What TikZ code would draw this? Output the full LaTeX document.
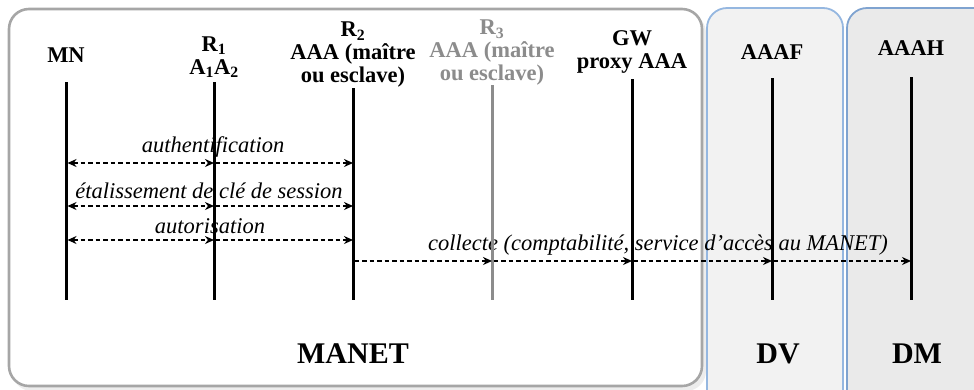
\documentclass[tikz,border=0pt]{standalone}
\usepackage{fontspec}
\setmainfont{Liberation Serif}
\usetikzlibrary{arrows.meta}
\definecolor{manetgray}{HTML}{A6A6A6}
\definecolor{dvblue}{HTML}{95B7E0}
\definecolor{dmblue}{HTML}{7FA3D0}
\definecolor{dvfill}{HTML}{F2F2F2}
\definecolor{dmfill}{HTML}{EAEAEA}
\definecolor{rthree}{HTML}{8C8C8C}
\tikzset{
  zonebox/.style={rounded corners=20pt, line width=2.6pt},
  head/.style={align=center, font=\fontsize{22.5}{23}\selectfont\bfseries, inner sep=0pt},
  msg/.style={font=\fontsize{22.5}{23}\selectfont\itshape, inner sep=0pt},
  big/.style={font=\fontsize{30}{32}\selectfont\bfseries, inner sep=0pt},
  life/.style={line width=3pt},
  flow/.style={line width=1.5pt, dash pattern=on 4.5pt off 3pt},
  tip/.style={-{Stealth[length=9pt,width=8pt]}},
  bitip/.style={{Stealth[length=9pt,width=8pt]}-{Stealth[length=9pt,width=8pt]}}
}
\begin{document}
\begin{tikzpicture}[x=1pt,y=-1pt]
\useasboundingbox (0,0) rectangle (974,389);
\begin{scope}
\clip (0,0) rectangle (974,389);
% shadow
\fill[black, opacity=0.07, rounded corners=20pt] (12,13) rectangle (706,391);
\draw[zonebox, draw=manetgray, fill=white] (9,9) rectangle (702,386);
\draw[zonebox, draw=dvblue, fill=dvfill, line width=1.8pt] (707,8) rectangle (843,410);
\draw[zonebox, draw=dmblue, fill=dmfill, line width=1.8pt] (847,8) rectangle (1000,410);
\end{scope}

% headers
\node[head] (hMN) at (66,55) {MN};
\node[head] (hR1) at (214,57) {R\textsubscript{1}\\A\textsubscript{1}A\textsubscript{2}};
\node[head] (hR2) at (353,55) {R\textsubscript{2}\\AAA (maître\\ou esclave)};
\node[head, text=rthree] (hR3) at (492,53) {R\textsubscript{3}\\AAA (maître\\ou esclave)};
\node[head] (hGW) at (632,52) {GW\\proxy AAA};
\node[head] (hF) at (772,52) {AAAF};
\node[head] (hH) at (911,48) {AAAH};

% message labels
\node[msg] (l1) at (213,147) {authentification};
\node[msg] (l2) at (209,191) {étalissement de clé de session};
\node[msg] (l3) at (210,226) {autorisation};
\node[msg] (l4) at (658,245) {collecte (comptabilité, service d’accès au MANET)};

% big labels
\node[big] (bM) at (353,354) {MANET};
\node[big] (bD) at (778,354) {DV};
\node[big] (bH) at (917,354) {DM};

% lifelines
\coordinate (mnT) at (66,82);   \coordinate (mnB) at (66,300);
\coordinate (r1T) at (214,82);  \coordinate (r1B) at (214,300);
\coordinate (r2T) at (353,88);  \coordinate (r2B) at (353,300);
\coordinate (r3T) at (492,85);  \coordinate (r3B) at (492,300);
\coordinate (gwT) at (632,79);  \coordinate (gwB) at (632,300);
\coordinate (fT) at (772,78);   \coordinate (fB) at (772,300);
\coordinate (hT) at (911,77);   \coordinate (hB) at (911,300);
\draw[life] (mnT) -- (mnB);
\draw[life] (r1T) -- (r1B);
\draw[life] (r2T) -- (r2B);
\draw[life, draw=rthree] (r3T) -- (r3B);
\draw[life] (gwT) -- (gwB);
\draw[life] (fT) -- (fB);
\draw[life] (hT) -- (hB);

% message points
\foreach \n/\y in {a/163,b/206,c/240}{
  \coordinate (mn\n) at (67.5,\y);
  \coordinate (r1\n) at (214,\y);
  \coordinate (r1\n s) at (215.5,\y);
  \coordinate (r2\n) at (353,\y);
  \draw[flow, bitip] (mn\n) -- (r1\n);
  \draw[flow, tip] (r1\n s) -- (r2\n);
}
\coordinate (r2d) at (354.5,261);
\coordinate (r3d) at (492,261);
\coordinate (r3ds) at (493.5,261);
\coordinate (gwd) at (632,261);
\coordinate (gwds) at (633.5,261);
\coordinate (fd) at (772,261);
\coordinate (fds) at (773.5,261);
\coordinate (hd) at (911,261);
\draw[flow, tip] (r2d) -- (r3d);
\draw[flow, tip] (r3ds) -- (gwd);
\draw[flow, tip] (gwds) -- (fd);
\draw[flow, tip] (fds) -- (hd);
\end{tikzpicture}
\end{document}
